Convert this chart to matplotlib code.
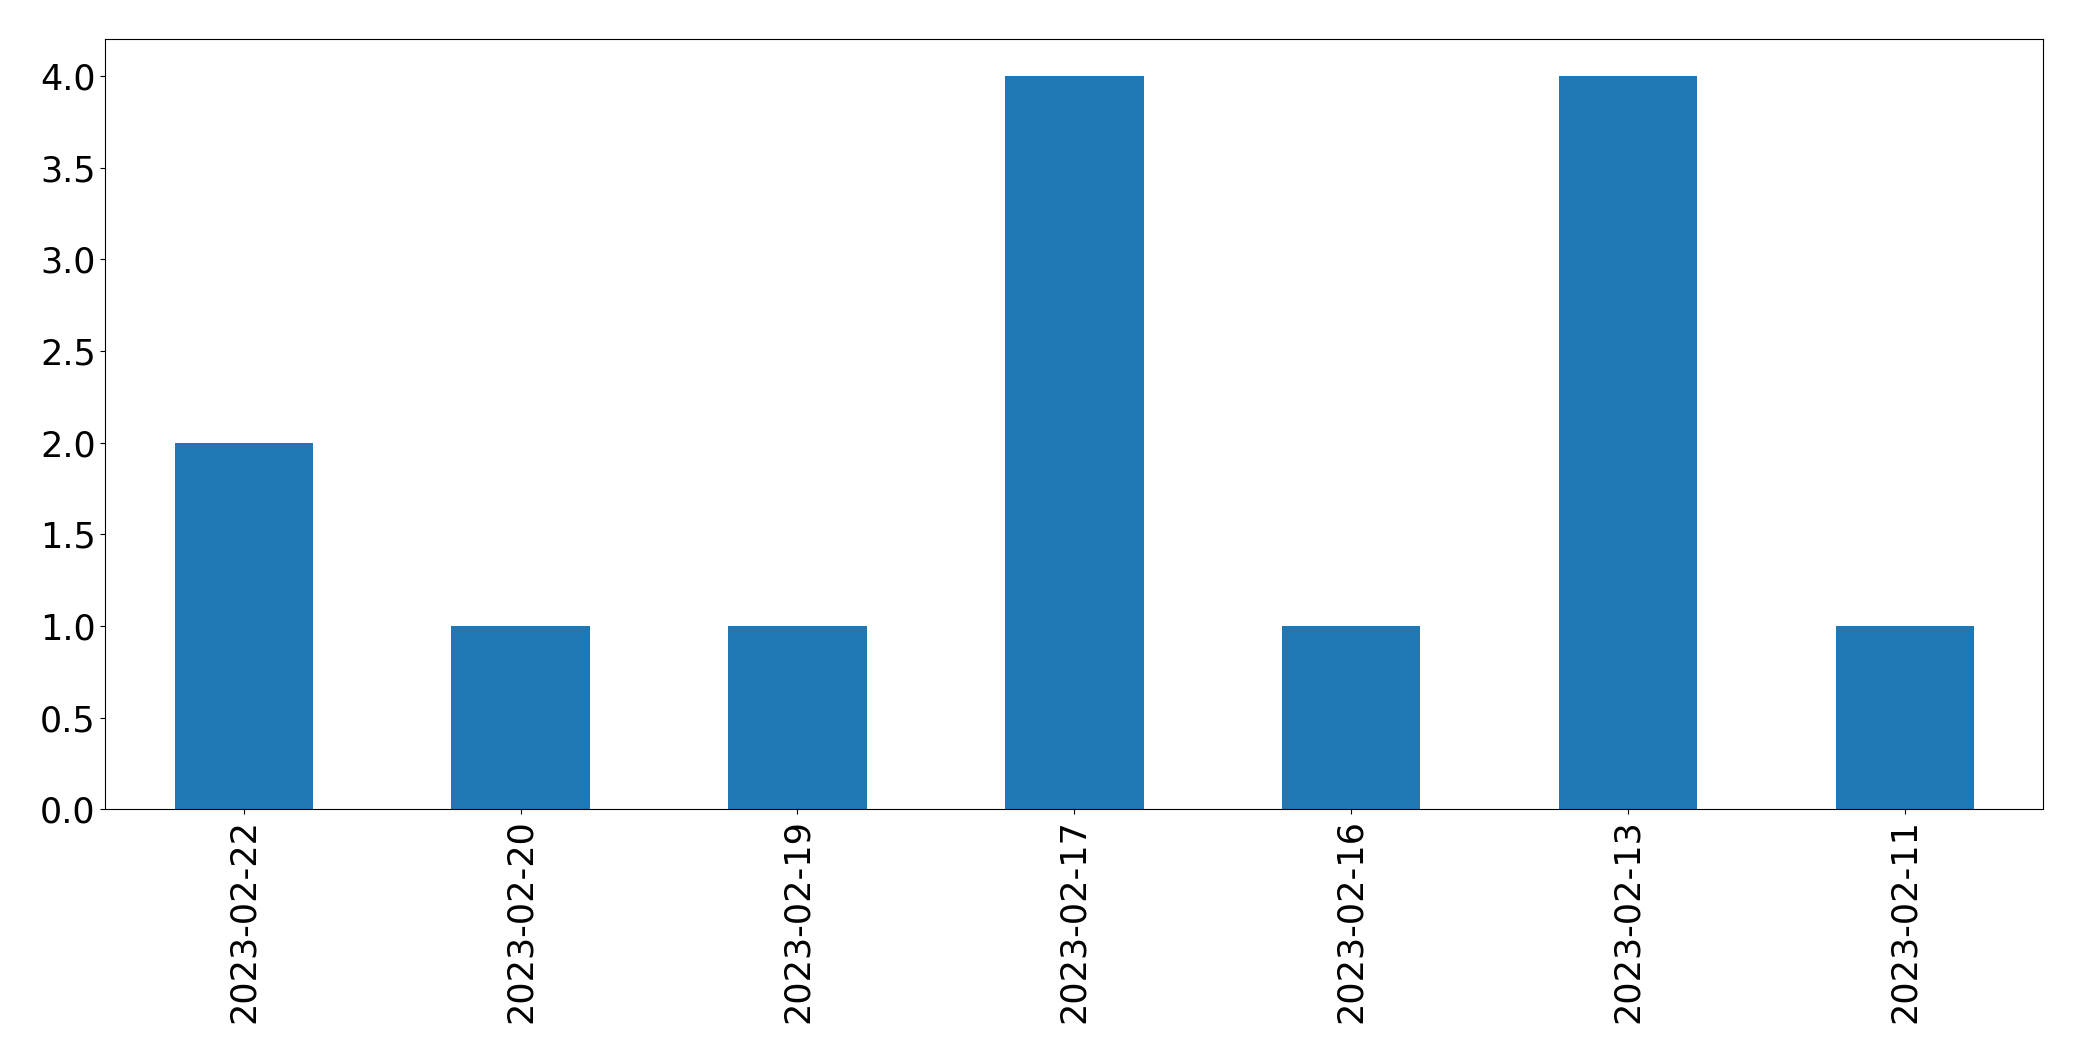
import matplotlib
matplotlib.use('Agg')
import matplotlib.pyplot as plt
import pandas as pd

# counts per day
dates = ['2023-02-22', '2023-02-20', '2023-02-19', '2023-02-17',
         '2023-02-16', '2023-02-13', '2023-02-11']
counts = [2, 1, 1, 4, 1, 4, 1]

s = pd.Series(counts, index=dates)

fig, ax = plt.subplots(figsize=(20.82, 10.61), dpi=100)
s.plot(kind='bar', ax=ax, fontsize=25.2)
plt.subplots_adjust(left=0.0506, right=0.9814, top=0.963, bottom=0.2372)
fig.savefig('out.png', dpi=100)
